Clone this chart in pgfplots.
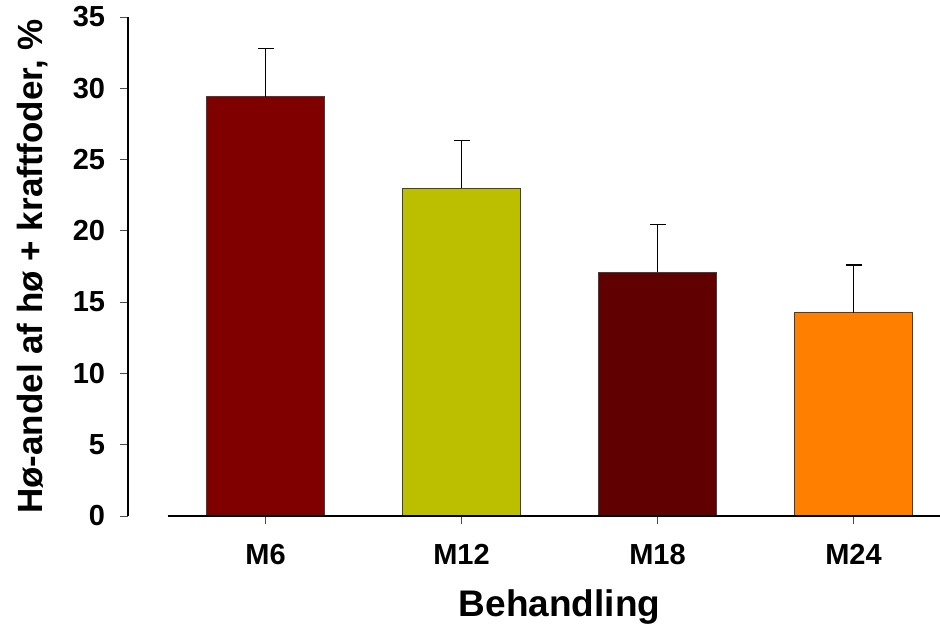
\documentclass[border=0pt]{standalone}
\usepackage{fontspec}
\setmainfont{Liberation Sans}
\usepackage{pgfplots}
\pgfplotsset{compat=1.18}
\definecolor{cM6}{RGB}{128,0,0}
\definecolor{cM12}{RGB}{187,191,0}
\definecolor{cM18}{RGB}{96,0,0}
\definecolor{cM24}{RGB}{255,128,0}
\begin{document}
\begin{tikzpicture}
\useasboundingbox (0,0) rectangle (940pt,625pt);
\begin{axis}[
  at={(128.3pt,109pt)}, anchor=south west,
  scale only axis, width=823.2pt, height=499pt,
  xmin=-0.7, xmax=3.5, ymin=0, ymax=35,
  axis y line=left, axis x line=bottom,
  axis line style={-},
  y axis line style={line width=2pt},
  x axis line style={draw=none},
  clip=false,
  ybar, bar width=0.6, bar shift=0pt,
  xtick={0,1,2,3}, xticklabels={M6,M12,M18,M24},
  ytick={0,5,...,35},
  tick align=outside,
  major tick length=8pt,
  every tick/.style={black!70, line width=0.8pt},
  /pgf/number format/assume math mode=true,
  ticklabel style={font=\fontsize{29}{34}\selectfont\bfseries},
  yticklabel style={anchor=east, inner sep=0pt, xshift=-15pt},
  xticklabel style={anchor=north, inner sep=0pt, yshift=-20pt},
  xlabel={Behandling},
  ylabel={Hø-andel af hø + kraftfoder, \%},
  xlabel style={font=\fontsize{37}{44}\selectfont\bfseries, at={(axis description cs:0.5238,0)}, anchor=base, yshift=-100pt},
  ylabel style={font=\fontsize{35}{42}\selectfont\bfseries, at={(axis description cs:-0.1045,0.5)}, anchor=base, rotate=0},
  every axis plot/.append style={draw=black!75, line width=0.8pt},
  error bars/error bar style={black, line width=1.3pt},
  error bars/error mark options={rotate=90, mark size=8pt, line width=1.3pt, black},
]
\addplot[fill=cM6, error bars/.cd, y dir=plus, y explicit] coordinates {(0,29.4) +- (0,3.4)};
\addplot[fill=cM12, error bars/.cd, y dir=plus, y explicit] coordinates {(1,23.0) +- (0,3.35)};
\addplot[fill=cM18, error bars/.cd, y dir=plus, y explicit] coordinates {(2,17.1) +- (0,3.35)};
\addplot[fill=cM24, error bars/.cd, y dir=plus, y explicit] coordinates {(3,14.25) +- (0,3.35)};
\draw[line width=2.5pt, black] (axis cs:-0.5,0) -- (axis cs:3.5,0);
\end{axis}
\end{tikzpicture}
\end{document}
